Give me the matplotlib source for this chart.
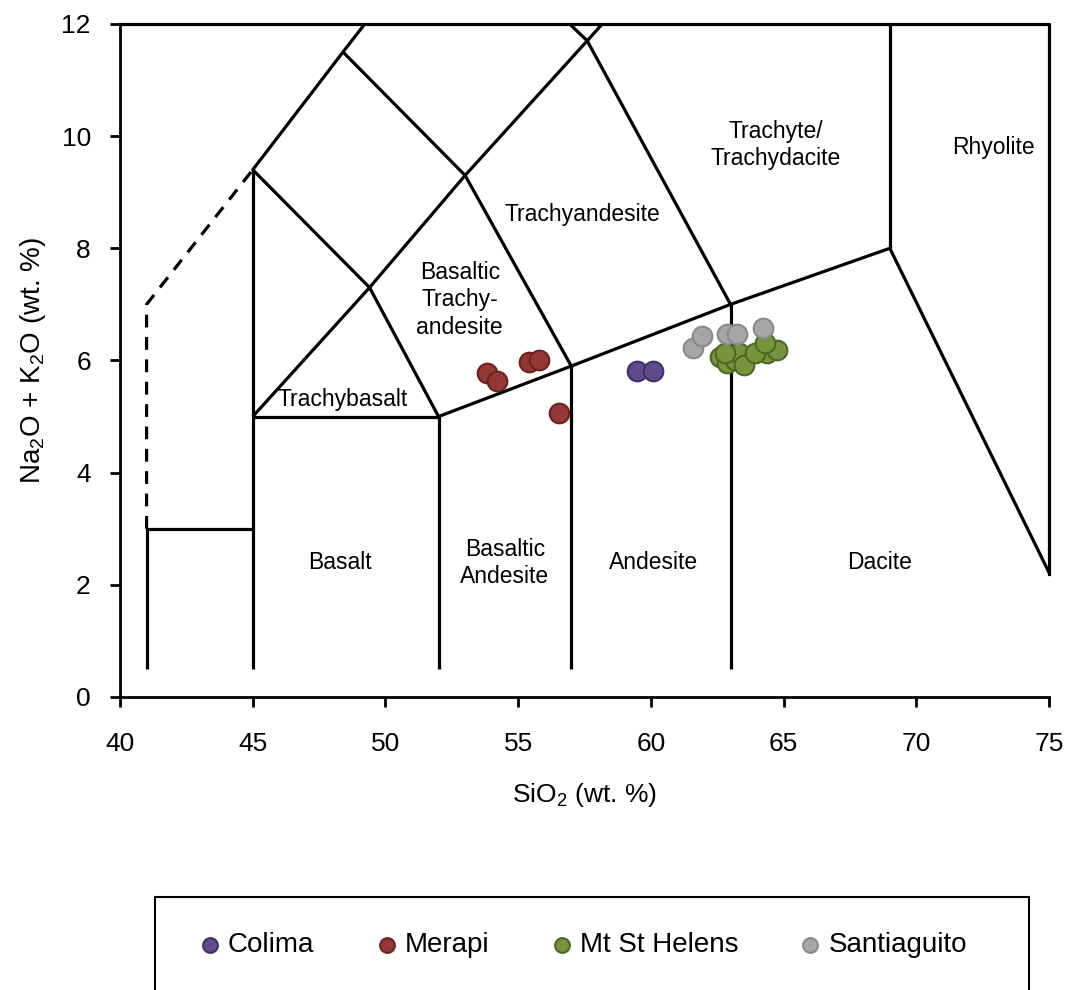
import matplotlib
matplotlib.use("Agg")
import matplotlib.pyplot as plt
from matplotlib.patches import Rectangle

plt.rcParams['font.family'] = ['Liberation Sans', 'DejaVu Sans']
plt.rcParams['mathtext.default'] = 'regular'

# TAS field boundaries (SiO2, Na2O+K2O)
solid_lines = [
    ([41, 41, 45], [0.5, 3, 3]),
    ([45, 45], [0.5, 9.4]),
    ([45, 52, 52], [5, 5, 0.5]),
    ([52, 57, 63, 69, 77.3], [5, 5.9, 7, 8, 0]),
    ([57, 57], [0.5, 5.9]),
    ([63, 63], [0.5, 7]),
    ([69, 69], [8, 12]),
    ([45, 49.4, 53, 57.6, 61], [5, 7.3, 9.3, 11.7, 13.5]),
    ([52, 49.4, 45, 48.4, 52.5], [5, 7.3, 9.4, 11.5, 14]),
    ([57, 53, 48.4], [5.9, 9.3, 11.5]),
    ([63, 57.6, 50.3], [7, 11.7, 15]),
]
dashed_line = ([41, 41, 45], [3, 7, 9.4])
frame_line = ([40, 75, 75], [12, 12, 2.2])

field_names = ["Trachyte/\nTrachydacite", "Rhyolite", "Trachyandesite",
               "Basaltic\nTrachy-\nandesite", "Trachybasalt", "Basalt",
               "Basaltic\nAndesite", "Andesite", "Dacite"]
field_x = [64.7, 72.9, 57.4, 52.8, 48.4, 48.3, 54.5, 60.1, 68.6]
field_y = [9.84, 9.8, 8.6, 7.08, 5.3, 2.39, 2.39, 2.39, 2.39]

# sample data
colima_si = [59.47, 60.09]
colima_alk = [5.81, 5.81]
merapi_si = [53.82, 54.19, 55.41, 55.79, 56.54]
merapi_alk = [5.77, 5.64, 5.98, 6.00, 5.06]
msh_si = [62.61, 62.86, 63.17, 63.30, 63.49, 62.80, 64.18, 64.37, 64.74, 63.93, 64.31]
msh_alk = [6.07, 5.95, 6.01, 6.13, 5.92, 6.13, 6.16, 6.13, 6.19, 6.13, 6.31]
sant_si = [61.60, 61.91, 62.86, 63.24, 64.24]
sant_alk = [6.23, 6.44, 6.47, 6.47, 6.57]

fig = plt.figure(figsize=(10.67, 9.9), dpi=100)
ax = fig.add_axes([0.1125, 0.296, 0.8707, 0.6798])

for xs, ys in solid_lines:
    ax.plot(xs, ys, color='black', lw=2.3, solid_capstyle='butt')
ax.plot(dashed_line[0], dashed_line[1], color='black', lw=2.3, ls=(0, (4, 3)))
ax.plot(frame_line[0], frame_line[1], color='black', lw=2.3, clip_on=False)

for name, x, y in zip(field_names, field_x, field_y):
    ax.text(x, y, name, ha='center', va='center', fontsize=16.5, linespacing=1.25)

series = [
    ("Colima", colima_si, colima_alk, '#5f4b8b', '#3f3166'),
    ("Merapi", merapi_si, merapi_alk, '#953735', '#6b2220'),
    ("Mt St Helens", msh_si, msh_alk, '#77933c', '#4f6627'),
    ("Santiaguito", sant_si, sant_alk, '#a6a6a6', '#8a8a8a'),
]
handles = []
for label, xs, ys, fc, ec in series:
    h = ax.scatter(xs, ys, s=200, color=fc, edgecolors=ec, linewidths=1.5,
                   zorder=5, label=label)
    handles.append(h)

ax.set_xlim(40, 75)
ax.set_ylim(0, 12)
ax.set_xticks(range(40, 76, 5))
ax.set_yticks(range(0, 13, 2))
ax.tick_params(direction='out', length=7, width=2, labelsize=19)
ax.tick_params(axis='y', pad=14)
ax.tick_params(axis='x', pad=18)
for side in ['top', 'right']:
    ax.spines[side].set_visible(False)
for side in ['left', 'bottom']:
    ax.spines[side].set_linewidth(2)

ax.set_xlabel('SiO$_2$ (wt. %)', fontsize=19, labelpad=18)
ax.set_ylabel('Na$_2$O + K$_2$O (wt. %)', fontsize=20, labelpad=10)

# legend box running off the bottom of the figure
fig.patches.append(Rectangle((155 / 1067, -0.05), (1029 - 155) / 1067, 0.05 + 1 - 897 / 990,
                             transform=fig.transFigure, fill=False, edgecolor='black', lw=1.5))
fig.legend(handles=handles, loc='center', bbox_to_anchor=(0.545, 1 - 945 / 990),
           ncol=4, frameon=False, fontsize=20, scatterpoints=1, markerscale=0.75,
           handletextpad=0.15, columnspacing=2.1, handlelength=1.0)

fig.savefig('out.png', dpi=100)
